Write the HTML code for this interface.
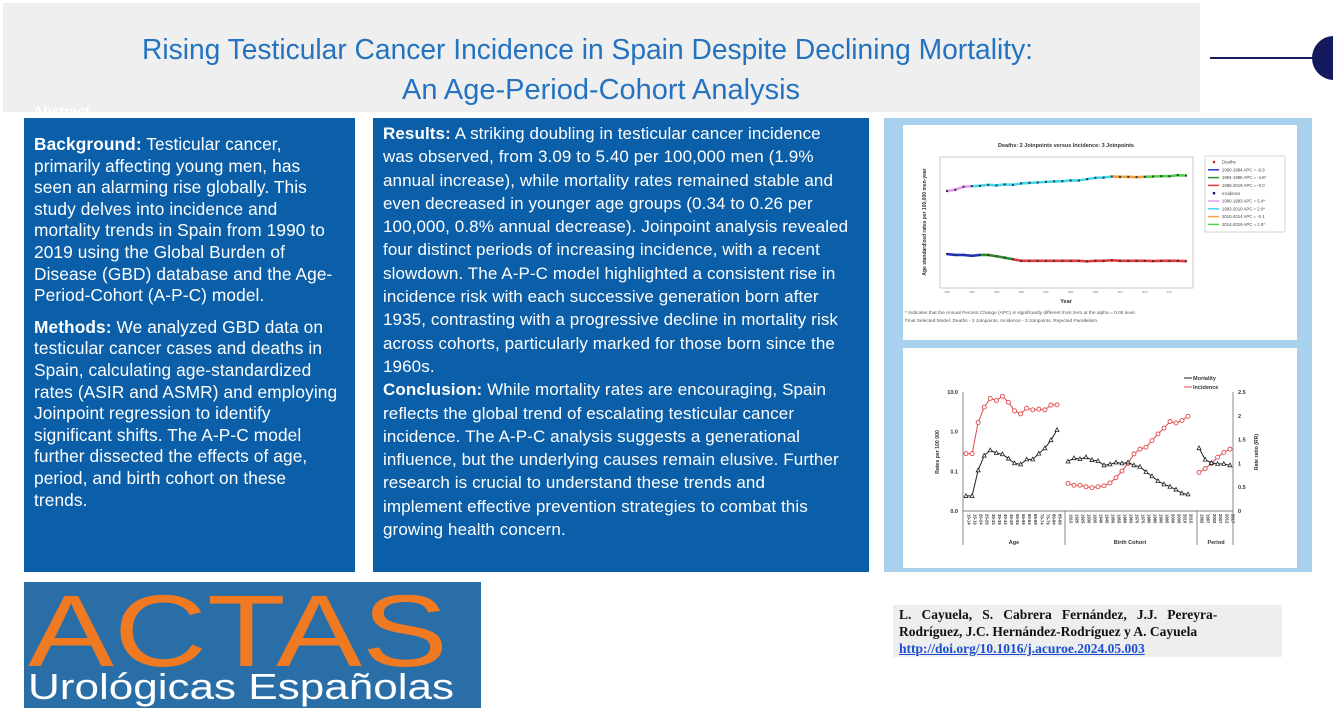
<!DOCTYPE html>
<html><head><meta charset="utf-8"><style>
body{margin:0;width:1333px;height:711px;overflow:hidden;background:#fff;position:relative;font-family:"Liberation Sans",sans-serif}
.abs{position:absolute}
.panel{position:absolute;background:#0b5ea8;color:#fff;white-space:nowrap;overflow:hidden}
.panel b{font-weight:bold}
</style></head><body>
<div class="abs" style="left:3px;top:3px;width:1197px;height:109px;background:#efefef"></div>
<svg class="abs" style="left:0;top:0" width="1333" height="120">
<text x="142" y="59" textLength="891" lengthAdjust="spacingAndGlyphs" font-size="29" fill="#2373c0" font-family="Liberation Sans Narrow, Liberation Sans, sans-serif">Rising Testicular Cancer Incidence in Spain Despite Declining Mortality:</text>
<text x="402" y="99" textLength="398" lengthAdjust="spacingAndGlyphs" font-size="29" fill="#2373c0" font-family="Liberation Sans Narrow, Liberation Sans, sans-serif">An Age-Period-Cohort Analysis</text>
<text x="33" y="116" font-size="14" font-weight="bold" fill="#fff">Abstract</text>
<line x1="1210" y1="58" x2="1315" y2="58" stroke="#141a5e" stroke-width="2"/>
<circle cx="1334" cy="58" r="22" fill="#141a5e"/>
</svg>

<div class="panel" style="left:24px;top:118px;width:331px;height:454px;font-size:17.3px;letter-spacing:0.1px;line-height:21.6px">
<div style="padding:16px 0 0 10px">
<b>Background:</b> Testicular cancer,<br>primarily affecting young men, has<br>seen an alarming rise globally. This<br>study delves into incidence and<br>mortality trends in Spain from 1990 to<br>2019 using the Global Burden of<br>Disease (GBD) database and the Age-<br>Period-Cohort (A-P-C) model.
<div style="height:10px"></div>
<b>Methods:</b> We analyzed GBD data on<br>testicular cancer cases and deaths in<br>Spain, calculating age-standardized<br>rates (ASIR and ASMR) and employing<br>Joinpoint regression to identify<br>significant shifts. The A-P-C model<br>further dissected the effects of age,<br>period, and birth cohort on these<br>trends.
</div></div>

<div class="panel" style="left:373px;top:118px;width:496px;height:454px;font-size:17px;letter-spacing:0.1px;line-height:23.3px">
<div style="padding:4px 0 0 10px">
<b>Results:</b> A striking doubling in testicular cancer incidence<br>was observed, from 3.09 to 5.40 per 100,000 men (1.9%<br>annual increase), while mortality rates remained stable and<br>even decreased in younger age groups (0.34 to 0.26 per<br>100,000, 0.8% annual decrease). Joinpoint analysis revealed<br>four distinct periods of increasing incidence, with a recent<br>slowdown. The A-P-C model highlighted a consistent rise in<br>incidence risk with each successive generation born after<br>1935, contrasting with a progressive decline in mortality risk<br>across cohorts, particularly marked for those born since the<br>1960s.<br>
<b>Conclusion:</b> While mortality rates are encouraging, Spain<br>reflects the global trend of escalating testicular cancer<br>incidence. The A-P-C analysis suggests a generational<br>influence, but the underlying causes remain elusive. Further<br>research is crucial to understand these trends and<br>implement effective prevention strategies to combat this<br>growing health concern.
</div></div>

<div class="abs" style="left:884px;top:118px;width:428px;height:454px;background:#a9d1ee"></div>
<div class="abs" style="left:903px;top:125px;width:394px;height:215px;background:#fff"></div>
<div class="abs" style="left:903px;top:348px;width:394px;height:220px;background:#fff"></div>

<svg id="charts" class="abs" style="left:0;top:0" width="1333" height="711" font-family="Liberation Sans, sans-serif"></svg>

<div class="abs" style="left:24px;top:582px;width:457px;height:126px;background:#2a6ea8;overflow:hidden">
<svg width="457" height="126">
<text x="4" y="84" textLength="420" lengthAdjust="spacingAndGlyphs" font-size="102" fill="#f07a22" font-family="Liberation Sans Narrow, Liberation Sans, sans-serif">ACTAS</text>
<text x="4" y="117" textLength="426" lengthAdjust="spacingAndGlyphs" font-size="36" fill="#fff" font-family="Liberation Sans Narrow, Liberation Sans, sans-serif">Urológicas Españolas</text>
</svg></div>

<div class="abs" style="left:893px;top:605px;width:389px;height:52px;background:#eeeeee;font-family:'Liberation Serif',serif;font-weight:bold;font-size:13.5px;line-height:17px;color:#111">
<div style="padding:1px 0 0 6px;white-space:nowrap">L.&nbsp;&nbsp; Cayuela,&nbsp;&nbsp; S.&nbsp;&nbsp; Cabrera&nbsp;&nbsp; Fernández,&nbsp;&nbsp; J.J.&nbsp;&nbsp; Pereyra-<br>Rodríguez, J.C. Hernández-Rodríguez y A. Cayuela<br><a style="color:#1a4fd0;text-decoration:underline">http://doi.org/10.1016/j.acuroe.2024.05.003</a></div>
</div>

<script>
// ---- Chart 1: joinpoint trends ----
const years=[1990,1991,1992,1993,1994,1995,1996,1997,1998,1999,2000,2001,2002,2003,2004,2005,2006,2007,2008,2009,2010,2011,2012,2013,2014,2015,2016,2017,2018,2019];
const incidence=[3.02,3.16,3.51,3.59,3.63,3.76,3.68,3.81,3.76,3.95,4.04,4.08,4.17,4.23,4.27,4.38,4.38,4.59,4.81,4.86,5.04,4.98,4.98,4.93,4.98,5.04,5.09,5.09,5.27,5.21];
const deaths=[0.33,0.32,0.32,0.31,0.32,0.32,0.305,0.29,0.275,0.26,0.26,0.26,0.26,0.26,0.26,0.26,0.26,0.255,0.26,0.26,0.265,0.26,0.26,0.26,0.26,0.258,0.26,0.26,0.26,0.257];
const incSegments=[[1990,1993,'#e59af0'],[1993,2010,'#3fd9f2'],[2010,2014,'#f4a040'],[2014,2019,'#4fd14a']];
const deathSegments=[[1990,1994,'#2233cc'],[1994,1998,'#2e8b2e'],[1998,2019,'#e8393a']];
const legendLabels=['Deaths','1990-1994 APC = -0.9','1994-1998 APC = -4.6*','1998-2019 APC = -0.0','Incidence','1990-1993 APC = 5.4*','1993-2010 APC = 2.0*','2010-2014 APC = -0.1','2014-2019 APC = 1.9*'];
const legendColors=['#cc2222','#2233cc','#2e8b2e','#e8393a','#220a6a','#e59af0','#3fd9f2','#f4a040','#4fd14a'];

// ---- Chart 2: age-period-cohort ----
const ageLabels=['10-14','15-19','20-24','25-29','30-34','35-39','40-44','45-49','50-54','55-59','60-64','65-69','70-74','75-79','80-84','85-89'];
const ageInc=[0.28,0.28,1.69,4.16,6.9,6.1,7.8,5.5,3.35,2.8,3.9,3.55,3.7,3.55,4.67,4.76];
const ageMort=[0.024,0.024,0.106,0.25,0.34,0.29,0.27,0.21,0.16,0.15,0.2,0.2,0.28,0.38,0.61,1.1];
const cohortLabels=['1915','1920','1925','1930','1935','1940','1945','1950','1955','1960','1965','1970','1975','1980','1985','1990','1995','2000','2005','2010','2015'];
const cohortMort=[1.04,1.11,1.09,1.13,1.07,1.05,0.96,0.98,1.02,1.0,1.02,0.96,0.93,0.82,0.73,0.63,0.56,0.51,0.45,0.37,0.35];
const cohortInc=[0.58,0.54,0.54,0.51,0.49,0.51,0.53,0.59,0.70,0.84,1.0,1.2,1.3,1.34,1.48,1.62,1.74,1.88,1.85,1.90,1.99];
const periodLabels=['1992','1997','2002','2007','2012','2017'];
const periodMort=[1.32,1.08,1.01,0.99,0.99,0.96];
const periodInc=[0.81,0.89,1.0,1.13,1.23,1.30];
const leftTicks=['10.0','1.0','0.1','0.0'];
const rightTicks=['0','0.5','1','1.5','2','2.5'];

const NS='http://www.w3.org/2000/svg';
const svg=document.getElementById('charts');
function mk(tag,attrs,parent){const e=document.createElementNS(NS,tag);for(const k in attrs)e.setAttribute(k,attrs[k]);(parent||svg).appendChild(e);return e;}
function txt(s,attrs){const e=mk('text',attrs);e.textContent=s;return e;}

// chart1 axes
const x1=y=>947+(y-1990)/(2019-1990)*(1186-947);
const y1=v=>288-(Math.log10(v)+1)/2*(288-157);
let t;
t=txt('Deaths: 2 Joinpoints  versus  Incidence: 3 Joinpoints',{x:1066,y:147,'font-size':5.5,'font-weight':'bold','text-anchor':'middle',fill:'#333'});

let r=mk('rect',{x:940,y:157,width:253,height:131,fill:'none',stroke:'#bbb','stroke-width':0.8});

t=txt('Age standardized rates per 100,000 men-year',{x:926,y:222,'font-size':5,'font-weight':'bold','text-anchor':'middle',transform:'rotate(-90 926 222)',fill:'#333'});

t=txt('Year',{x:1066,y:303,'font-size':5.5,'font-weight':'bold','text-anchor':'middle',fill:'#333'});

for(let yy=1990;yy<=2019;yy+=3){t=txt(String(yy),{x:x1(yy),y:293,'font-size':2.5,'text-anchor':'middle',fill:'#777'});
}
function segLines(vals,segs,name){segs.forEach(s=>{const pts=[];years.forEach((yy,i)=>{if(yy>=s[0]&&yy<=s[1])pts.push(x1(yy)+','+y1(vals[i]));});
const p=mk('polyline',{points:pts.join(' '),fill:'none',stroke:s[2],'stroke-width':2.6});
});
vals.forEach((v,i)=>{const c=mk('rect',{x:x1(years[i])-1,y:y1(v)-1,width:2,height:2,fill:'#333'});
});}
segLines(incidence,incSegments,'incidence');
segLines(deaths,deathSegments,'deaths');
r=mk('rect',{x:1205,y:156,width:80,height:76,fill:'#fff',stroke:'#bbb','stroke-width':0.6});

legendLabels.forEach((l,i)=>{const yy=162+i*7.8;
if(i===0||i===4){const c=mk('circle',{cx:1214,cy:yy,r:1.3,fill:legendColors[i]});}
else{const ln=mk('line',{x1:1208,y1:yy,x2:1219,y2:yy,stroke:legendColors[i],'stroke-width':1.5});}
const tt=txt(l,{x:1222,y:yy+1.6,'font-size':4.3,fill:'#444'});});
t=txt('* Indicates that the Annual Percent Change (APC) is significantly different from zero at the alpha = 0.05 level.',{x:905,y:314,'font-size':4.8,fill:'#555'});

t=txt('Final Selected Model: Deaths - 2 Joinpoints, Incidence - 3 Joinpoints. Rejected Parallelism.',{x:905,y:322,'font-size':4.8,fill:'#555'});


// chart2
const yl=v=>511-(Math.log10(v)+2)/3*(511-392);
const yr=v=>511-v/2.5*(511-392);
const ax=i=>966+i*(1057-966)/(ageLabels.length-1);
const cx=i=>1068+i*(1188-1068)/(cohortLabels.length-1);
const px=i=>1199+i*(1230-1199)/(periodLabels.length-1);
[[963,392,963,545],[1233,392,1233,545],[963,511,1233,511],[1065,511,1065,545],[1197,511,1197,545]].forEach(a=>{const l=mk('line',{x1:a[0],y1:a[1],x2:a[2],y2:a[3],stroke:'#555','stroke-width':0.7});});
leftTicks.forEach((s,i)=>{const yy=yl(Math.pow(10,1-i));const tt=txt(s,{x:958,y:yy+2,'font-size':5.5,'font-weight':'bold','text-anchor':'end',fill:'#333'});});
rightTicks.forEach(s=>{const yy=yr(parseFloat(s));const tt=txt(s,{x:1238,y:yy+2,'font-size':5.5,'font-weight':'bold',fill:'#333'});});
t=txt('Rates per 100 000',{x:939,y:452,'font-size':5.2,'font-weight':'bold','text-anchor':'middle',transform:'rotate(-90 939 452)',fill:'#333'});
t=txt('Rate ratio (RR)',{x:1258,y:452,'font-size':5.2,'font-weight':'bold','text-anchor':'middle',transform:'rotate(-90 1258 452)',fill:'#333'});
function xl(labels,fx){labels.forEach((s,i)=>{const x=fx(i);const tt=txt(s,{x:x+1.5,y:514,'font-size':4.2,'font-weight':'bold',transform:'rotate(90 '+(x+1.5)+' 514)',fill:'#333'});});}
xl(ageLabels,ax);xl(cohortLabels,cx);xl(periodLabels,px);
[['Age',1014],['Birth Cohort',1130],['Period',1216]].forEach(a=>{const tt=txt(a[0],{x:a[1],y:544,'font-size':5.5,'font-weight':'bold','text-anchor':'middle',fill:'#333'});});
function series(vals,fx,fy,color,kind,name){const p=mk('polyline',{points:vals.map((v,i)=>fx(i)+','+fy(v)).join(' '),fill:'none',stroke:color,'stroke-width':1});

vals.forEach((v,i)=>{const x=fx(i),y=fy(v);let m;
if(kind==='c')m=mk('circle',{cx:x,cy:y,r:2,fill:'#fff',stroke:color,'stroke-width':0.9});
else m=mk('polygon',{points:(x)+','+(y-2.2)+' '+(x-2)+','+(y+1.5)+' '+(x+2)+','+(y+1.5),fill:'#fff',stroke:color,'stroke-width':0.8});
});}
series(ageInc,ax,yl,'#e04848','c','age-incidence');
series(ageMort,ax,yl,'#222','t','age-mortality');
series(cohortInc,cx,yr,'#e04848','c','cohort-incidence');
series(cohortMort,cx,yr,'#222','t','cohort-mortality');
series(periodInc,px,yr,'#e04848','c','period-incidence');
series(periodMort,px,yr,'#222','t','period-mortality');
[['Mortality','#222',378],['Incidence','#e04848',387]].forEach(a=>{const l=mk('line',{x1:1184,y1:a[2],x2:1192,y2:a[2],stroke:a[1],'stroke-width':1});
const tt=txt(a[0],{x:1193,y:a[2]+2,'font-size':5.5,'font-weight':'bold',fill:'#333'});});
</script>
</body></html>
